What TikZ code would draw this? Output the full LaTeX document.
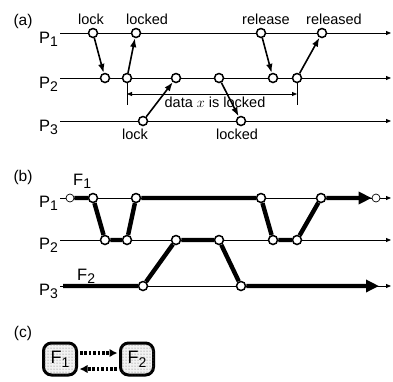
\documentclass[tikz,border=0pt]{standalone}
\usepackage{fontspec}
\setmainfont{Liberation Sans}
\usetikzlibrary{arrows.meta,patterns,backgrounds}

\newcommand{\idx}[1]{\raisebox{-.22em}{\fontsize{14}{14}\selectfont #1}}

\tikzset{
  ev/.style={circle,draw,fill=white,line width=1.5pt,minimum size=9pt,inner sep=0pt},
  evthin/.style={ev,line width=.7pt,minimum size=8pt},
  proc/.style={line width=.8pt,-{Triangle[length=5pt,width=4pt]}},
  msg/.style={line width=1.6pt,-{Latex[length=9pt,width=6.5pt]}},
  span/.style={line width=.8pt,{Triangle[length=5pt,width=4pt]}-{Triangle[length=5pt,width=4pt]}},
  flow/.style={line width=4.4pt},
  bigtip/.style={-{Triangle[length=13pt,width=12pt]}},
  lbl/.style={font=\fontsize{14.5}{15}\selectfont,inner sep=0pt,anchor=base},
  pname/.style={font=\fontsize{16.5}{17}\selectfont,inner sep=0pt,anchor=base east},
  fname/.style={font=\fontsize{16.5}{17}\selectfont,inner sep=0pt,anchor=base west},
  tag/.style={font=\fontsize{15.5}{16}\selectfont,inner sep=0pt},
  fbox/.style={draw,line width=3pt,rounded corners=8pt,minimum width=33pt,minimum height=32pt,
    fill=black!5,postaction={pattern=dots,pattern color=black!60},
    font=\fontsize{18}{18}\selectfont,inner sep=0pt},
  dep/.style={line width=3.2pt,dash pattern=on 2.6pt off 1.8pt,shorten <=2pt,shorten >=1.5pt,
    -{Latex[length=8pt,width=8.5pt]}}
}

\begin{document}
\begin{tikzpicture}[x=1pt,y=-1pt]
\useasboundingbox (0,0) rectangle (393,381);

% ---- (a): locking data x
\node[tag] (ta) at (23,21) {(a)};
\foreach \n/\y in {1/33,2/78,3/121} {
  \coordinate (a\n s) at (60,\y);
  \coordinate (a\n e) at (391,\y);
  \node[pname] (pa\n) at (58,\y+10) {P\idx{\n}};
}
\node[ev] (a11) at (93,33) {};
\node[ev] (a12) at (136,33) {};
\node[ev] (a13) at (261,33) {};
\node[ev] (a14) at (322,33) {};
\node[ev] (a21) at (105,78) {};
\node[ev] (a22) at (127,78) {};
\node[ev] (a23) at (176,78) {};
\node[ev] (a24) at (219,78) {};
\node[ev] (a25) at (273,78) {};
\node[ev] (a26) at (297,78) {};
\node[ev] (a31) at (143,121) {};
\node[ev] (a32) at (241,121) {};

\begin{scope}[on background layer]
\foreach \n in {1,2,3}
  \draw[proc] (a\n s) -- (a\n e);
\end{scope}

\draw[msg] (a11) -- (a21);
\draw[msg] (a22) -- (a12);
\draw[msg] (a31) -- (a23);
\draw[msg] (a24) -- (a32);
\draw[msg] (a13) -- (a25);
\draw[msg] (a26) -- (a14);

\node[lbl] (l11) at (91,24) {lock};
\node[lbl] (l12) at (147,24) {locked};
\node[lbl] (l13) at (266,24) {release};
\node[lbl] (l14) at (334,24) {released};
\node[lbl] (l31) at (135,139) {lock};
\node[lbl] (l32) at (237,139) {locked};

% interval during which x is held
\coordinate (ka) at (127,105);
\coordinate (kb) at (297,105);
\coordinate (da) at (127,94);
\coordinate (db) at (297,94);
\draw[line width=.8pt] (a22) -- (ka);
\draw[line width=.8pt] (a26) -- (kb);
\draw[span] (da) -- (db);
\node[lbl] (dx) at (215,107) {data $x$ is locked};

% ---- (b): the two flows
\node[tag] (tb) at (23,177) {(b)};
\foreach \n/\y in {1/198,2/240,3/286} {
  \coordinate (b\n s) at (60,\y);
  \coordinate (b\n e) at (391,\y);
  \node[pname] (pb\n) at (58,\y+9) {P\idx{\n}};
}
\node[evthin] (s1) at (70,198) {};
\node[evthin] (e1) at (376,198) {};
\node[ev] (b11) at (93,198) {};
\node[ev] (b12) at (136,198) {};
\node[ev] (b13) at (261,198) {};
\node[ev] (b14) at (321,198) {};
\node[ev] (b21) at (105,240) {};
\node[ev] (b22) at (127,240) {};
\node[ev] (b23) at (176,240) {};
\node[ev] (b24) at (219,240) {};
\node[ev] (b25) at (273,240) {};
\node[ev] (b26) at (297,240) {};
\node[ev] (b31) at (143,286) {};
\node[ev] (b32) at (241,286) {};
\coordinate (f2s) at (63,286);
\coordinate (f2e) at (379,286);

\begin{scope}[on background layer]
\foreach \n in {1,2,3}
  \draw[proc] (b\n s) -- (b\n e);
\draw[flow,bigtip] (s1) -- (b11) -- (b21) -- (b22) -- (b12) -- (b13)
  -- (b25) -- (b26) -- (b14) -- (e1);
\draw[flow,bigtip] (f2s) -- (b31) -- (b23) -- (b24) -- (b32) -- (f2e);
\end{scope}

\node[fname] (f1) at (73,185) {F\idx{1}};
\node[fname] (f2) at (77,280) {F\idx{2}};

% ---- (c): dependency between flows
\node[tag] (tc) at (23,333) {(c)};
\node[fbox] (c1) at (60,359) {F\idx{1}};
\node[fbox] (c2) at (137,359) {F\idx{2}};
\draw[dep] ([yshift=6pt]c1.east) -- ([yshift=6pt]c2.west);
\draw[dep] ([yshift=-10pt]c2.west) -- ([yshift=-10pt]c1.east);
\end{tikzpicture}
\end{document}
